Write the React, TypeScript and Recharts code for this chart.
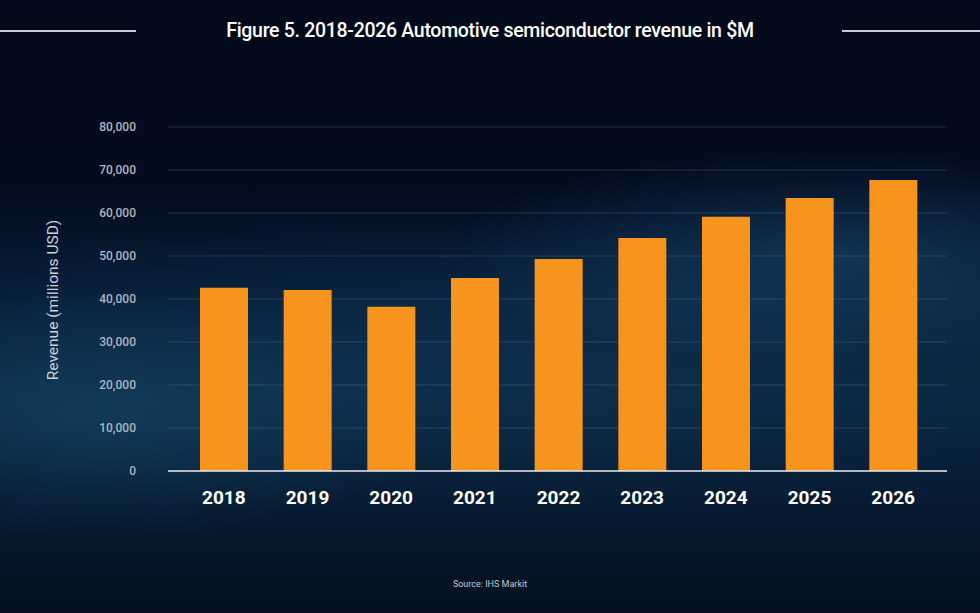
import { BarChart, Bar, XAxis, YAxis, CartesianGrid } from 'recharts'

const years = ['2018', '2019', '2020', '2021', '2022', '2023', '2024', '2025', '2026']
const revenue = [42600, 42100, 38200, 44900, 49300, 54200, 59100, 63500, 67700]
const yTicks = [0, 10000, 20000, 30000, 40000, 50000, 60000, 70000, 80000]

const data = years.map((year, i) => ({ year, revenue: revenue[i] }))

const font = 'Roboto, "Noto Sans", sans-serif'

function YLabel() {
  return (
    <text
      x={53}
      y={300}
      transform="rotate(-90 53 300)"
      textAnchor="middle"
      dominantBaseline="central"
      fill="#c9d1db"
      fontSize={15.5}
      fontFamily={font}
    >
      Revenue (millions USD)
    </text>
  )
}

export default function App() {
  return (
    <div
      style={{
        position: 'absolute',
        left: 0,
        top: 0,
        width: 980,
        height: 613,
        overflow: 'hidden',
        fontFamily: font,
        background: [
          'radial-gradient(ellipse 40% 18% at 85% 42%, rgba(30,85,125,0.45), transparent)',
          'radial-gradient(ellipse 35% 20% at 10% 68%, rgba(25,80,115,0.45), transparent)',
          'radial-gradient(ellipse 70% 25% at 50% 60%, rgba(20,65,100,0.35), transparent)',
          'linear-gradient(to bottom, #020a1b 0%, #030b1e 30%, #08203a 50%, #0a2640 65%, #071b31 82%, #04101f 100%)',
        ].join(','),
      }}
    >
      <div style={{ position: 'absolute', left: 0, top: 30, width: 136, height: 2, background: '#c8cdd6' }} />
      <div style={{ position: 'absolute', left: 842, top: 30, width: 138, height: 2, background: '#c8cdd6' }} />
      <div
        style={{
          position: 'absolute',
          left: 0,
          top: 19,
          width: 980,
          textAlign: 'center',
          color: '#ffffff',
          fontSize: 19.5,
          fontWeight: 500,
          letterSpacing: -0.3,
        }}
      >
        Figure 5. 2018-2026 Automotive semiconductor revenue in $M
      </div>

      <div style={{ position: 'absolute', left: 0, top: 0 }}>
        <BarChart
          width={980}
          height={613}
          data={data}
          margin={{ top: 127, right: 33, bottom: 102, left: 88 }}
          barCategoryGap={35}
        >
          <CartesianGrid vertical={false} stroke="rgba(120,140,165,0.28)" strokeWidth={1} />
          <XAxis
            dataKey="year"
            height={40}
            padding={{ left: 14, right: 12 }}
            axisLine={{ stroke: '#e4e8ee', strokeWidth: 1.5 }}
            tickLine={false}
            tickSize={0}
            tickMargin={20}
            tick={{ fill: '#ffffff', fontSize: 19, fontWeight: 700, fontFamily: font }}
          />
          <YAxis
            width={80}
            domain={[0, 80000]}
            ticks={yTicks}
            interval={0}
            axisLine={false}
            tickLine={false}
            tickSize={0}
            tickMargin={32}
            tickFormatter={(v: number) => v.toLocaleString('en-US')}
            tick={{ fill: '#aeb5c0', fontSize: 12, fontWeight: 500, fontFamily: font }}
            label={<YLabel />}
          />
          <Bar dataKey="revenue" fill="#f7941e" barSize={48} isAnimationActive={false} />
        </BarChart>
      </div>

      <div
        style={{
          position: 'absolute',
          left: 0,
          top: 579,
          width: 980,
          textAlign: 'center',
          color: '#c3c9d2',
          fontSize: 9,
        }}
      >
        Source: IHS Markit
      </div>
    </div>
  )
}
